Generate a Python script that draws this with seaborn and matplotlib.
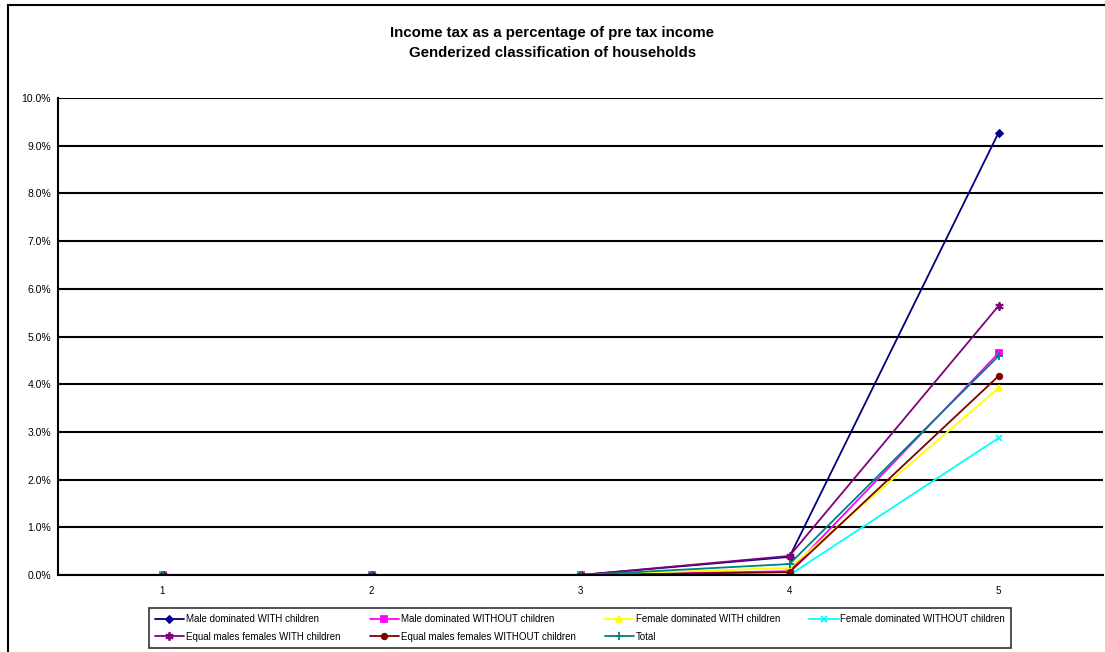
import pandas as pd
import numpy as np
import matplotlib
matplotlib.use("Agg")
import matplotlib.pyplot as plt
import matplotlib.ticker as mticker
from matplotlib.patches import Rectangle
import seaborn as sns

# quintiles
quintiles = [1, 2, 3, 4, 5]

# income tax as % of pre tax income
male_with = [0.0, 0.0, 0.0, 0.38, 9.27]
male_without = [0.0, 0.0, 0.0, 0.08, 4.65]
female_with = [0.0, 0.0, 0.0, 0.15, 3.92]
female_without = [0.0, 0.0, 0.0, 0.0, 2.87]
equal_with = [0.0, 0.0, 0.0, 0.40, 5.64]
equal_without = [0.0, 0.0, 0.0, 0.06, 4.17]
total = [0.0, 0.0, 0.0, 0.23, 4.59]

names = ["Male dominated WITH children", "Male dominated WITHOUT children",
         "Female dominated WITH children", "Female dominated WITHOUT children",
         "Equal males females WITH children", "Equal males females WITHOUT children",
         "Total"]
series = [male_with, male_without, female_with, female_without,
          equal_with, equal_without, total]

colors = ["#000080", "#FF00FF", "#FFFF00", "#00FFFF", "#800080", "#800000", "#008080"]
markers = ["D", "s", "^", "x", (6, 2, 0), "o", "+"]
msizes = [3.5, 5, 5, 5, 6, 4, 6]

rows = []
for n, s in zip(names, series):
    for q, v in zip(quintiles, s):
        rows.append({"quintile": q, "value": v / 100, "group": n})
df = pd.DataFrame(rows)

sns.set_style("white")
plt.rcParams['font.family'] = ['Liberation Sans', 'DejaVu Sans']
plt.rcParams['text.color'] = 'black'
plt.rcParams['xtick.color'] = 'black'
plt.rcParams['ytick.color'] = 'black'

fig = plt.figure(figsize=(11.05, 6.52), dpi=100)
# outer chart border
fig.patches.append(Rectangle((8 / 1105, -0.05), 1.2, 1 - 5 / 652 + 0.05,
                             transform=fig.transFigure, fill=False,
                             edgecolor="black", linewidth=1.5))
ax = fig.add_axes([58 / 1105, 1 - 575 / 652, (1103 - 58) / 1105, (575 - 98) / 652])

for n, c, m, ms in zip(names, colors, markers, msizes):
    sns.lineplot(data=df[df["group"] == n], x="quintile", y="value",
                 color=c, marker=m, markersize=ms, markeredgecolor=c,
                 markerfacecolor=c, markeredgewidth=1.3,
                 linewidth=1.3, ax=ax, label=n, legend=False)

ax.set_xlim(0.5, 5.5)
ax.set_ylim(0, 0.10)
ax.yaxis.set_major_locator(mticker.MultipleLocator(0.01))
ax.yaxis.set_major_formatter(mticker.PercentFormatter(1.0, decimals=1))
ax.set_xticks(quintiles)
ax.set_xticks(np.arange(0.5, 5.6, 1), minor=True)
ax.tick_params(axis="x", which="major", length=0, labelsize=7, pad=8)
ax.tick_params(axis="x", which="minor", length=4, width=1, direction="out", color="black")
ax.tick_params(axis="y", which="major", length=3, width=1, direction="out",
               color="black", labelsize=7.5, pad=2)
ax.yaxis.grid(True, color="black", linewidth=1.5)
ax.set_axisbelow(True)
ax.set_xlabel("")
ax.set_ylabel("")
for side in ["top", "right"]:
    ax.spines[side].set_visible(False)
ax.spines["left"].set_color("black")
ax.spines["left"].set_linewidth(1.5)
ax.spines["bottom"].set_color("black")
ax.spines["bottom"].set_linewidth(1.5)

fig.text(0.5, 1 - 33 / 652, "Income tax as a percentage of pre tax income",
         ha="center", va="center", fontsize=10.8, fontweight="bold")
fig.text(0.5, 1 - 53 / 652, "Genderized classification of households",
         ha="center", va="center", fontsize=10.8, fontweight="bold")

# legend filled row by row like the original
lines = ax.get_lines()[:len(names)]
order = [0, 4, 1, 5, 2, 6, 3]
leg = fig.legend([lines[i] for i in order], [names[i] for i in order],
                 loc="center", ncol=4,
                 bbox_to_anchor=(580 / 1105, 1 - 628 / 652),
                 fontsize=7, frameon=True, fancybox=False, edgecolor="black",
                 handlelength=3, columnspacing=3, handletextpad=0.2,
                 labelspacing=0.8, borderpad=0.6)
leg.get_frame().set_linewidth(1.2)

fig.savefig("out.png", dpi=100)
